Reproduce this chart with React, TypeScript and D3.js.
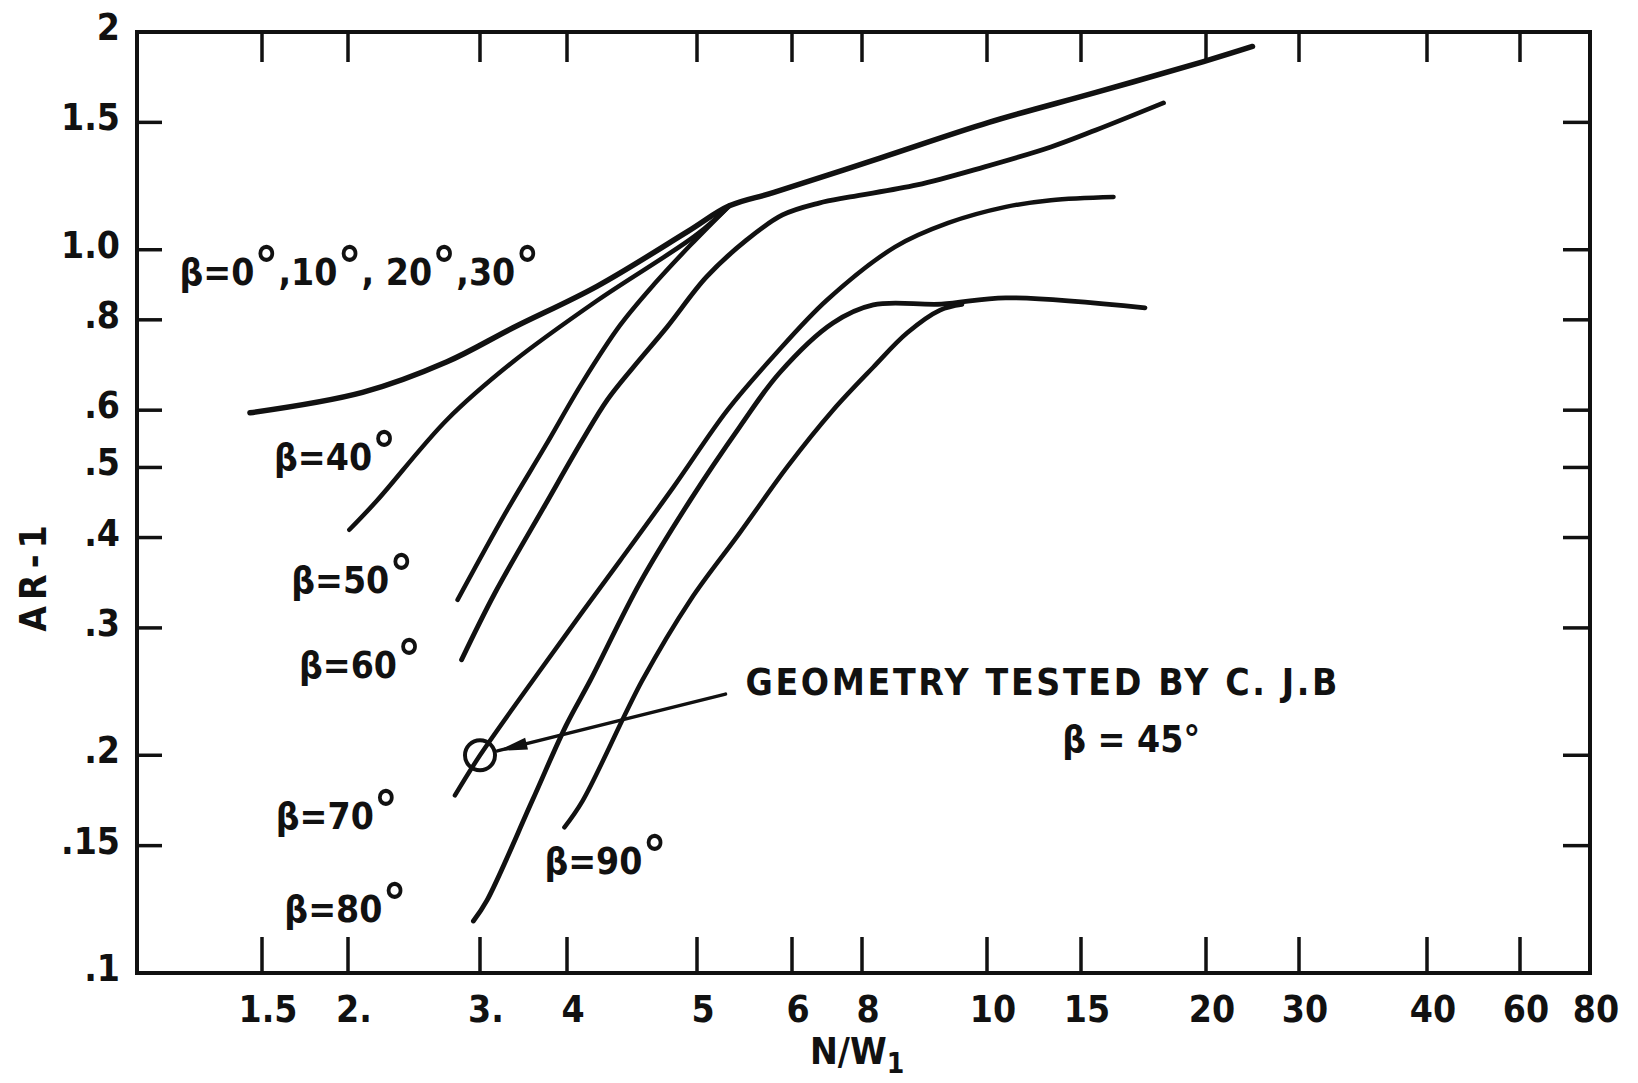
import React from "react";
import * as d3 from "d3";

const WIDTH = 1638;
const HEIGHT = 1083;
const margin = { top: 32, right: 48, bottom: 110, left: 137 };
const innerW = WIDTH - margin.left - margin.right;
const innerH = HEIGHT - margin.top - margin.bottom;

// x axis is hand ruled: the ticks are not evenly spaced in any regular way
const xTicks = [1.5, 2, 3, 4, 5, 6, 8, 10, 15, 20, 30, 40, 60, 80];
const xTickLabels = ["1.5", "2.", "3.", "4", "5", "6", "8", "10", "15", "20", "30", "40", "60", "80"];
// where each tick sits along the axis, px from the plot's left edge
const xTickOffsets = [125, 211, 343, 430, 560, 655, 725, 850, 944, 1069, 1162, 1290, 1383, 1453];

const yTicks = [2, 1.5, 1.0, 0.8, 0.6, 0.5, 0.4, 0.3, 0.2, 0.15, 0.1];
const yTickLabels = ["2", "1.5", "1.0", ".8", ".6", ".5", ".4", ".3", ".2", ".15", ".1"];

// curves, [N/W1, AR-1]
const beta0to30 = [
  [1.43, 0.595], [2.11, 0.635], [2.75, 0.70], [3.38, 0.78], [4.23, 0.89],
  [4.93, 1.06], [5.34, 1.15], [5.81, 1.20], [8.3, 1.34], [10.1, 1.50],
  [15.6, 1.65], [19.9, 1.82], [25, 1.91],
];
const beta40 = [
  [2.01, 0.41], [2.22, 0.45], [2.75, 0.582], [3.38, 0.70], [4.23, 0.85],
  [5.0, 1.05], [5.34, 1.15],
];
const beta50 = [
  [2.83, 0.328], [3.30, 0.434], [3.75, 0.535], [4.12, 0.656], [4.41, 0.787],
  [4.68, 0.90], [4.95, 1.015], [5.34, 1.15],
];
const beta60 = [
  [2.86, 0.271], [3.17, 0.335], [3.75, 0.444], [4.12, 0.546], [4.31, 0.62],
  [4.51, 0.688], [4.77, 0.782], [5.1, 0.917], [5.52, 1.031], [5.9, 1.117],
  [6.77, 1.16], [7.66, 1.183], [8.88, 1.229], [9.95, 1.301], [13.4, 1.387],
  [15.6, 1.464], [18.3, 1.596],
];
const beta70 = [
  [2.81, 0.176], [3.0, 0.2], [3.69, 0.262], [4.12, 0.316], [4.41, 0.372],
  [4.82, 0.47], [5.32, 0.60], [5.8, 0.711], [7.0, 0.852], [8.53, 1.009],
  [9.38, 1.089], [11.0, 1.146], [13.4, 1.171], [16.3, 1.183],
];
const beta80 = [
  [2.95, 0.118], [3.08, 0.126], [3.6, 0.173], [3.99, 0.22], [4.18, 0.254],
  [4.56, 0.346], [4.95, 0.451], [5.45, 0.569], [5.87, 0.676], [7.17, 0.792],
  [8.18, 0.839], [9.27, 0.841], [11.0, 0.858], [17.56, 0.831],
];
const beta90 = [
  [3.97, 0.159], [4.12, 0.173], [4.58, 0.254], [4.95, 0.328], [5.45, 0.406],
  [5.95, 0.501], [7.17, 0.60], [8.18, 0.688], [8.72, 0.767], [9.25, 0.825],
  [9.6, 0.84],
];

const curves = [
  { id: "b0-30", points: beta0to30, width: 5.5 },
  { id: "b40", points: beta40, width: 4.5 },
  { id: "b50", points: beta50, width: 4.5 },
  { id: "b60", points: beta60, width: 4.8 },
  { id: "b70", points: beta70, width: 4.5 },
  { id: "b80", points: beta80, width: 4.8 },
  { id: "b90", points: beta90, width: 4.5 },
];

// curve labels, anchored at [N/W1, AR-1] (start of text, baseline)
const curveLabels = [
  { text: "β=0°,10°, 20°,30°", at: [1.02, 0.894] },
  { text: "β=40°", at: [1.57, 0.496] },
  { text: "β=50°", at: [1.67, 0.335] },
  { text: "β=60°", at: [1.715, 0.256] },
  { text: "β=70°", at: [1.58, 0.158] },
  { text: "β=80°", at: [1.63, 0.1176] },
  { text: "β=90°", at: [3.74, 0.137] },
];

const testedPoint = [3.0, 0.2];
const arrowTail = [5.3, 0.243];
const noteLine1 = { text: "GEOMETRY TESTED BY  C. J.B", at: [5.51, 0.242] };
const noteLine2 = { text: "β = 45°", at: [14.0, 0.202] };

const FONT = "'DejaVu Sans Condensed', 'DejaVu Sans', sans-serif";
const INK = "#111";
const FS = 37;

function DegreeText({ x, y, text }) {
  const parts = text.split("°");
  return (
    <text x={x} y={y} fontSize={FS} fontFamily={FONT} fontWeight="bold" fill={INK}>
      {parts.map((p, i) => (
        <React.Fragment key={i}>
          <tspan>{p}</tspan>
          {i < parts.length - 1 && <tspan fontSize={FS * 1.45}>°</tspan>}
        </React.Fragment>
      ))}
    </text>
  );
}

export default function App() {
  const x = d3
    .scaleLinear()
    .domain(xTicks)
    .range(xTickOffsets.map((o) => margin.left + o));
  const y = d3
    .scaleLog()
    .domain([0.1, 2])
    .range([margin.top + innerH, margin.top]);

  const line = d3
    .line()
    .x((d) => x(d[0]))
    .y((d) => y(d[1]))
    .curve(d3.curveCatmullRom.alpha(0.5));

  const left = margin.left;
  const right = margin.left + innerW;
  const top = margin.top;
  const bottom = margin.top + innerH;

  // arrow toward the tested geometry
  const cx = x(testedPoint[0]);
  const cy = y(testedPoint[1]);
  const tx = x(arrowTail[0]);
  const ty = y(arrowTail[1]);
  const len = Math.hypot(tx - cx, ty - cy);
  const ux = (tx - cx) / len;
  const uy = (ty - cy) / len;
  const r = 15;
  const tipX = cx + ux * (r + 3);
  const tipY = cy + uy * (r + 3);
  const baseX = tipX + ux * 30;
  const baseY = tipY + uy * 30;
  const head = [
    [tipX, tipY],
    [baseX - uy * 6, baseY + ux * 6],
    [baseX + uy * 6, baseY - ux * 6],
  ];

  const innerXTicks = xTicks.slice(0, -1);
  const innerYTicks = yTicks.slice(1, -1);

  return (
    <svg
      width={WIDTH}
      height={HEIGHT}
      style={{ position: "absolute", left: 0, top: 0, background: "#fff" }}
    >
      <rect x={0} y={0} width={WIDTH} height={HEIGHT} fill="#fff" />

      {/* frame */}
      <rect
        x={left}
        y={top}
        width={innerW}
        height={innerH}
        fill="none"
        stroke={INK}
        strokeWidth={4}
      />

      {/* x ticks, bottom and top */}
      {innerXTicks.map((v) => (
        <g key={"xt" + v}>
          <line x1={x(v)} x2={x(v)} y1={bottom} y2={bottom - 36} stroke={INK} strokeWidth={3.5} />
          <line x1={x(v)} x2={x(v)} y1={top} y2={top + 30} stroke={INK} strokeWidth={3.5} />
        </g>
      ))}
      {xTicks.map((v, i) => (
        <text
          key={"xl" + v}
          x={x(v) + 6}
          y={bottom + 49}
          textAnchor="middle"
          fontSize={FS}
          fontFamily={FONT}
          fontWeight="bold"
          fill={INK}
        >
          {xTickLabels[i]}
        </text>
      ))}

      {/* y ticks, left and right */}
      {innerYTicks.map((v) => (
        <g key={"yt" + v}>
          <line x1={left} x2={left + 25} y1={y(v)} y2={y(v)} stroke={INK} strokeWidth={3.5} />
          <line x1={right} x2={right - 27} y1={y(v)} y2={y(v)} stroke={INK} strokeWidth={3.5} />
        </g>
      ))}
      {yTicks.map((v, i) => (
        <text
          key={"yl" + v}
          x={left - 17}
          y={y(v) + 8}
          textAnchor="end"
          fontSize={FS}
          fontFamily={FONT}
          fontWeight="bold"
          fill={INK}
        >
          {yTickLabels[i]}
        </text>
      ))}

      {/* axis titles */}
      <text
        x={810}
        y={HEIGHT - 19}
        fontSize={FS}
        fontFamily={FONT}
        fontWeight="bold"
        fill={INK}
      >
        N/W
        <tspan fontSize={28} dy={9}>1</tspan>
      </text>
      <text
        transform={`translate(46, ${(top + bottom) / 2 + 73}) rotate(-90)`}
        textAnchor="middle"
        fontSize={FS}
        fontFamily={FONT}
        fontWeight="bold"
        letterSpacing={6}
        fill={INK}
      >
        AR-1
      </text>

      {/* curves */}
      {curves.map((c) => (
        <path
          key={c.id}
          d={line(c.points)}
          fill="none"
          stroke={INK}
          strokeWidth={c.width}
          strokeLinecap="round"
          strokeLinejoin="round"
        />
      ))}

      {/* curve labels */}
      {curveLabels.map((l) => (
        <DegreeText key={l.text} x={x(l.at[0])} y={y(l.at[1])} text={l.text} />
      ))}

      {/* tested geometry marker and note */}
      <circle cx={cx} cy={cy} r={r} fill="none" stroke={INK} strokeWidth={4} />
      <line x1={tipX} y1={tipY} x2={tx} y2={ty} stroke={INK} strokeWidth={3.5} strokeLinecap="round" />
      <polygon points={head.map((p) => p.join(",")).join(" ")} fill={INK} />
      <text
        x={x(noteLine1.at[0])}
        y={y(noteLine1.at[1])}
        fontSize={FS}
        fontFamily={FONT}
        fontWeight="bold"
        fill={INK}
        textLength={592}
        lengthAdjust="spacing"
      >
        {noteLine1.text}
      </text>
      <text
        x={x(noteLine2.at[0])}
        y={y(noteLine2.at[1])}
        fontSize={FS}
        fontFamily={FONT}
        fontWeight="bold"
        fill={INK}
      >
        {noteLine2.text}
      </text>
    </svg>
  );
}
